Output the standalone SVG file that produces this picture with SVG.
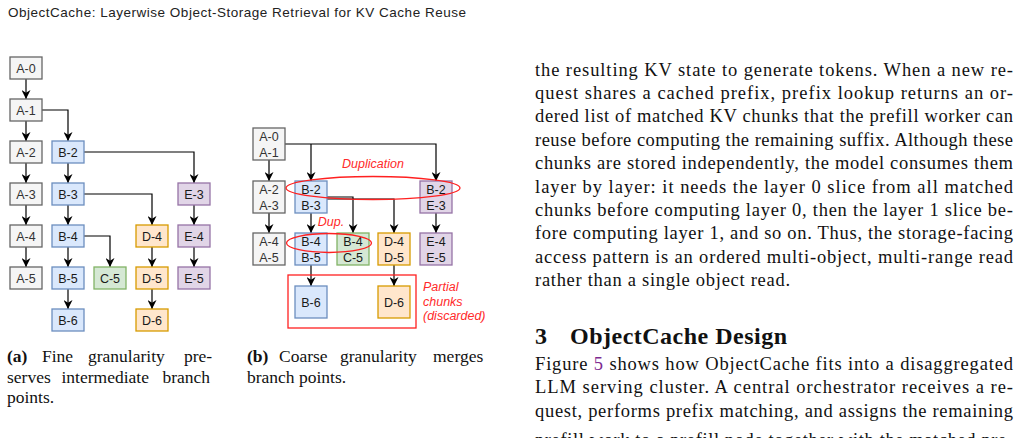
<svg xmlns="http://www.w3.org/2000/svg" width="1025" height="438" viewBox="0 0 1025 438">
<style>
.n rect{stroke-width:1.3}
.g rect{fill:#f5f5f5;stroke:#666}
.b rect{fill:#dae8fc;stroke:#6c8ebf}
.c rect{fill:#d5e8d4;stroke:#82b366}
.d rect{fill:#ffe6cc;stroke:#d79b00}
.e rect{fill:#e1d5e7;stroke:#9673a6}
.n text{font-family:"Liberation Sans",Arial,sans-serif;font-size:12.5px;text-anchor:middle;fill:#1a1a1a}
.g text{fill:#333}
.conn path{fill:none;stroke:#000;stroke-width:1.2;marker-end:url(#arr)}
.red{fill:none;stroke:#ff2020;stroke-width:1.3}
.rt{font-family:"Liberation Sans",Arial,sans-serif;font-size:12.5px;font-style:italic;fill:#ff2a2a}
.body{font-family:"Liberation Serif","Times New Roman",serif;font-size:18.5px;fill:#111}
.cap{font-family:"Liberation Serif","Times New Roman",serif;font-size:17.5px;fill:#111}
.hdr{font-family:"Liberation Sans",Arial,sans-serif;font-size:13.5px;fill:#222}
</style>
<defs>
<marker id="arr" viewBox="0 0 10 10" refX="10" refY="5" markerWidth="9" markerHeight="9" markerUnits="userSpaceOnUse" orient="auto">
<path d="M0,0 L10,5 L0,10 L3,5 z" fill="#000"/>
</marker>
</defs>
<rect width="1025" height="438" fill="#fff"/>
<text class="hdr" x="8" y="17" textLength="458">ObjectCache: Layerwise Object-Storage Retrieval for KV Cache Reuse</text>

<!-- (a) fine granularity -->
<g id="fine-connectors" class="conn">
<path d="M26,79 V99"/>
<path d="M26,121 V141"/>
<path d="M42,110 H68 V141"/>
<path d="M26,163 V183"/>
<path d="M26,205 V225"/>
<path d="M26,247 V267"/>
<path d="M68,163 V183"/>
<path d="M84,152 H194 V183"/>
<path d="M68,205 V225"/>
<path d="M84,194 H152 V225"/>
<path d="M68,247 V267"/>
<path d="M84,236 H110 V267"/>
<path d="M68,289 V309"/>
<path d="M152,247 V267"/>
<path d="M152,289 V309"/>
<path d="M194,205 V225"/>
<path d="M194,247 V267"/>
</g>
<g id="a-A0" class="n g"><rect x="10" y="57" width="32" height="22"/><text x="26" y="72.5">A-0</text></g>
<g id="a-A1" class="n g"><rect x="10" y="99" width="32" height="22"/><text x="26" y="114.5">A-1</text></g>
<g id="a-A2" class="n g"><rect x="10" y="141" width="32" height="22"/><text x="26" y="156.5">A-2</text></g>
<g id="a-A3" class="n g"><rect x="10" y="183" width="32" height="22"/><text x="26" y="198.5">A-3</text></g>
<g id="a-A4" class="n g"><rect x="10" y="225" width="32" height="22"/><text x="26" y="240.5">A-4</text></g>
<g id="a-A5" class="n g"><rect x="10" y="267" width="32" height="22"/><text x="26" y="282.5">A-5</text></g>
<g id="a-B2" class="n b"><rect x="52" y="141" width="32" height="22"/><text x="68" y="156.5">B-2</text></g>
<g id="a-B3" class="n b"><rect x="52" y="183" width="32" height="22"/><text x="68" y="198.5">B-3</text></g>
<g id="a-B4" class="n b"><rect x="52" y="225" width="32" height="22"/><text x="68" y="240.5">B-4</text></g>
<g id="a-B5" class="n b"><rect x="52" y="267" width="32" height="22"/><text x="68" y="282.5">B-5</text></g>
<g id="a-B6" class="n b"><rect x="52" y="309" width="32" height="22"/><text x="68" y="324.5">B-6</text></g>
<g id="a-C5" class="n c"><rect x="94" y="267" width="32" height="22"/><text x="110" y="282.5">C-5</text></g>
<g id="a-D4" class="n d"><rect x="136" y="225" width="32" height="22"/><text x="152" y="240.5">D-4</text></g>
<g id="a-D5" class="n d"><rect x="136" y="267" width="32" height="22"/><text x="152" y="282.5">D-5</text></g>
<g id="a-D6" class="n d"><rect x="136" y="309" width="32" height="22"/><text x="152" y="324.5">D-6</text></g>
<g id="a-E3" class="n e"><rect x="178" y="183" width="32" height="22"/><text x="194" y="198.5">E-3</text></g>
<g id="a-E4" class="n e"><rect x="178" y="225" width="32" height="22"/><text x="194" y="240.5">E-4</text></g>
<g id="a-E5" class="n e"><rect x="178" y="267" width="32" height="22"/><text x="194" y="282.5">E-5</text></g>

<!-- (b) coarse granularity -->
<g id="coarse-connectors" class="conn">
<path d="M269,160 V181"/>
<path d="M285,144 H436 V181"/>
<path d="M311,144 V181"/>
<path d="M269,213 V233"/>
<path d="M311,213 V233"/>
<path d="M327,197 H353 V233"/>
<path d="M327,199 H394 V233"/>
<path d="M436,213 V233"/>
<path d="M311,265 V286"/>
<path d="M394,265 V286"/>
</g>
<g id="b-A01" class="n g"><rect x="253" y="128" width="32" height="32"/><text x="269" y="141">A-0</text><text x="269" y="156.5">A-1</text></g>
<g id="b-A23" class="n g"><rect x="253" y="181" width="32" height="32"/><text x="269" y="194">A-2</text><text x="269" y="209.5">A-3</text></g>
<g id="b-A45" class="n g"><rect x="253" y="233" width="32" height="32"/><text x="269" y="246">A-4</text><text x="269" y="261.5">A-5</text></g>
<g id="b-B23" class="n b"><rect x="295" y="181" width="32" height="32"/><text x="311" y="194">B-2</text><text x="311" y="209.5">B-3</text></g>
<g id="b-B45" class="n b"><rect x="295" y="233" width="32" height="32"/><text x="311" y="246">B-4</text><text x="311" y="261.5">B-5</text></g>
<g id="b-B6" class="n b"><rect x="295" y="286" width="32" height="32"/><text x="311" y="306.5">B-6</text></g>
<g id="b-B4C5" class="n c"><rect x="337" y="233" width="32" height="32"/><text x="353" y="246">B-4</text><text x="353" y="261.5">C-5</text></g>
<g id="b-D45" class="n d"><rect x="378" y="233" width="32" height="32"/><text x="394" y="246">D-4</text><text x="394" y="261.5">D-5</text></g>
<g id="b-D6" class="n d"><rect x="378" y="286" width="32" height="32"/><text x="394" y="306.5">D-6</text></g>
<g id="b-B2E3" class="n e"><rect x="420" y="181" width="32" height="32"/><text x="436" y="194">B-2</text><text x="436" y="209.5">E-3</text></g>
<g id="b-E45" class="n e"><rect x="420" y="233" width="32" height="32"/><text x="436" y="246">E-4</text><text x="436" y="261.5">E-5</text></g>

<g id="annotations">
<ellipse class="red" cx="373" cy="188" rx="87" ry="11.5"/>
<ellipse class="red" cx="329" cy="243" rx="42.5" ry="9.5"/>
<rect class="red" x="288" y="275" width="128" height="53"/>
<text class="rt" x="373" y="168" text-anchor="middle">Duplication</text>
<text class="rt" x="331" y="226" text-anchor="middle">Dup.</text>
<text class="rt" x="423" y="291">Partial</text>
<text class="rt" x="423" y="305.5">chunks</text>
<text class="rt" x="423" y="320">(discarded)</text>
</g>

<!-- captions -->
<g id="captions" class="cap">
<text y="361.5"><tspan x="7" font-weight="bold">(a)</tspan><tspan x="42">Fine</tspan><tspan x="88">granularity</tspan><tspan x="184">pre-</tspan></text>
<text y="382.5"><tspan x="7">serves</tspan><tspan x="61.5">intermediate</tspan><tspan x="162.5">branch</tspan></text>
<text x="7" y="403">points.</text>
<text y="361.5"><tspan x="247" font-weight="bold">(b)</tspan><tspan x="279">Coarse</tspan><tspan x="340">granularity</tspan><tspan x="433">merges</tspan></text>
<text x="247" y="382.5">branch points.</text>
</g>

<!-- body text -->
<g id="body" class="body">
<text x="535" y="75.5" textLength="478">the resulting KV state to generate tokens. When a new re-</text>
<text x="535" y="98.9" textLength="478">quest shares a cached prefix, prefix lookup returns an or-</text>
<text x="535" y="122.3" textLength="478">dered list of matched KV chunks that the prefill worker can</text>
<text x="535" y="145.7" textLength="478">reuse before computing the remaining suffix. Although these</text>
<text x="535" y="169.1" textLength="478">chunks are stored independently, the model consumes them</text>
<text x="535" y="192.5" textLength="478">layer by layer: it needs the layer 0 slice from all matched</text>
<text x="535" y="215.9" textLength="478">chunks before computing layer 0, then the layer 1 slice be-</text>
<text x="535" y="239.3" textLength="478">fore computing layer 1, and so on. Thus, the storage-facing</text>
<text x="535" y="262.7" textLength="478">access pattern is an ordered multi-object, multi-range read</text>
<text x="535" y="286.1" textLength="255">rather than a single object read.</text>
<text x="535" y="343.5" font-size="24" font-weight="bold">3</text>
<text x="570" y="343.5" font-size="24" font-weight="bold" textLength="217">ObjectCache Design</text>
<text x="535" y="370" textLength="478">Figure <tspan fill="#7d2a90">5</tspan> shows how ObjectCache fits into a disaggregated</text>
<text x="535" y="393.4" textLength="478">LLM serving cluster. A central orchestrator receives a re-</text>
<text x="535" y="416.8" textLength="478">quest, performs prefix matching, and assigns the remaining</text>
<text x="535" y="446" textLength="478">prefill work to a prefill node together with the matched pre-</text>
</g>
</svg>
